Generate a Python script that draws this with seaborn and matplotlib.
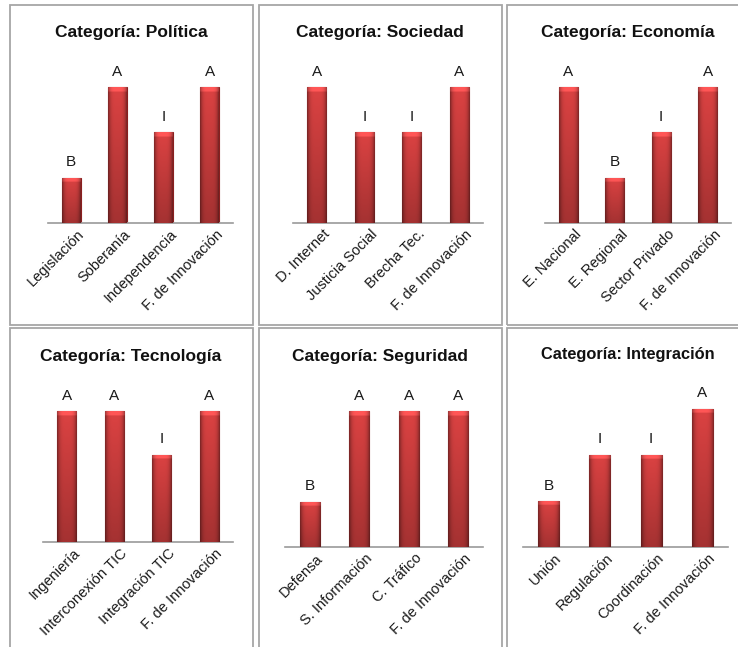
import numpy as np
import pandas as pd
import matplotlib
matplotlib.use('Agg')
import matplotlib.pyplot as plt
import matplotlib.transforms as mtransforms
from matplotlib.patches import Rectangle
import seaborn as sns

# --- data (B = 1, I = 2, A = 3) ---
titles = ['Categoría: Política', 'Categoría: Sociedad', 'Categoría: Economía',
          'Categoría: Tecnología', 'Categoría: Seguridad', 'Categoría: Integración']

politica_cats = ['Legislación', 'Soberanía', 'Independencia', 'F. de Innovación']
politica_vals = [1, 3, 2, 3]
politica_txt = ['B', 'A', 'I', 'A']

sociedad_cats = ['D. Internet', 'Justicia Social', 'Brecha Tec.', 'F. de Innovación']
sociedad_vals = [3, 2, 2, 3]
sociedad_txt = ['A', 'I', 'I', 'A']

economia_cats = ['E. Nacional', 'E. Regional', 'Sector Privado', 'F. de Innovación']
economia_vals = [3, 1, 2, 3]
economia_txt = ['A', 'B', 'I', 'A']

tecnologia_cats = ['Ingeniería', 'Interconexión TIC', 'Integración TIC', 'F. de Innovación']
tecnologia_vals = [3, 3, 2, 3]
tecnologia_txt = ['A', 'A', 'I', 'A']

seguridad_cats = ['Defensa', 'S. Información', 'C. Tráfico', 'F. de Innovación']
seguridad_vals = [1, 3, 3, 3]
seguridad_txt = ['B', 'A', 'A', 'A']

integracion_cats = ['Unión', 'Regulación', 'Coordinación', 'F. de Innovación']
integracion_vals = [1, 2, 2, 3]
integracion_txt = ['B', 'I', 'I', 'A']

panels = [
    (politica_cats, politica_vals, politica_txt),
    (sociedad_cats, sociedad_vals, sociedad_txt),
    (economia_cats, economia_vals, economia_txt),
    (tecnologia_cats, tecnologia_vals, tecnologia_txt),
    (seguridad_cats, seguridad_vals, seguridad_txt),
    (integracion_cats, integracion_vals, integracion_txt),
]

# --- layout in pixels (left, right, baseline, top) ---
W, H = 738, 647
axes_px = [(48, 233, 223, 60), (293, 483, 223, 60), (545, 731, 223, 60),
           (43, 233, 542, 385), (285, 483, 547, 384), (523, 728, 547, 381)]
boxes_px = [(10, 253, 5, 325), (259, 502, 5, 325), (507, 745, 5, 325),
            (10, 253, 328, 660), (259, 502, 328, 660), (507, 745, 328, 660)]
title_x = [131, 380, 628, 131, 380, 628]
title_y = [33, 33, 33, 357, 357, 354]
title_size = [12.5, 12.5, 12.5, 12.5, 12.5, 11.8]

sns.set_theme(style='white')
plt.rcParams['font.family'] = ['Liberation Sans', 'DejaVu Sans']

fig = plt.figure(figsize=(W / 100, H / 100), dpi=100)


def fx(x):
    return x / W


def fy(y):
    return 1 - y / H


# panel frames
for (l, r, t, b) in boxes_px:
    fig.patches.append(Rectangle((fx(l), fy(b)), fx(r - l), (b - t) / H,
                                 transform=fig.transFigure, fill=False,
                                 edgecolor='#a6a6a6', linewidth=1.3))


def shade_bar(ax, p):
    x0, y0 = p.get_x(), p.get_y()
    w, h = p.get_width(), p.get_height()
    nx, ny = 40, 120
    u = np.linspace(0, 1, nx)
    v = np.linspace(0, 1, ny)[:, None]  # 0 at top row
    side = 1 - 0.42 * np.abs(2 * u - 1) ** 4
    vert = 1 - 0.25 * v
    base = np.array([0.86, 0.26, 0.26])
    img = base[None, None, :] * (side[None, :] * vert)[:, :, None]
    band = v[:, 0] * h < 0.1
    img[band] = np.clip(img[band] * 1.12 + 0.05, 0, 1)
    im = ax.imshow(img, extent=(x0, x0 + w, y0, y0 + h), aspect='auto',
                   origin='upper', zorder=3, interpolation='bilinear')
    im.set_clip_path(p)


for i, (cats, vals, txt) in enumerate(panels):
    l, r, base_y, top = axes_px[i]
    ax = fig.add_axes([fx(l), fy(base_y), fx(r - l), (base_y - top) / H])
    df = pd.DataFrame({'cat': cats, 'val': vals})
    sns.barplot(data=df, x='cat', y='val', color='#c83a3a', width=0.41,
                edgecolor='#8a1f1f', linewidth=0.8, ax=ax)
    for p, t in zip(list(ax.patches), txt):
        shade_bar(ax, p)
        ax.annotate(t, (p.get_x() + p.get_width() / 2, p.get_height()),
                    xytext=(0, 6), textcoords='offset points', ha='center',
                    va='bottom', fontsize=11, color='#1a1a1a')
    ax.set_xlim(-0.5, 3.5)
    ax.set_ylim(0, 3.6)
    ax.set_xlabel('')
    ax.set_ylabel('')
    ax.set_yticks([])
    ax.set_xticks(range(len(cats)))
    ax.set_xticklabels(cats, rotation=45, ha='right', rotation_mode='anchor',
                       fontsize=10.5, color='#1a1a1a')
    ax.tick_params(axis='x', length=0, pad=3)
    shift = mtransforms.ScaledTranslation(6 / 100, 0, fig.dpi_scale_trans)
    for lab in ax.get_xticklabels():
        lab.set_transform(lab.get_transform() + shift)
    for s in ['top', 'left', 'right']:
        ax.spines[s].set_visible(False)
    ax.spines['bottom'].set_color('#9a9a9a')
    ax.spines['bottom'].set_linewidth(1.2)
    ax.patch.set_alpha(0)

    fig.text(fx(title_x[i]), fy(title_y[i]), titles[i], ha='center', va='center',
             fontsize=title_size[i], fontweight='bold', color='#111111')

fig.savefig('out.png', dpi=100)
